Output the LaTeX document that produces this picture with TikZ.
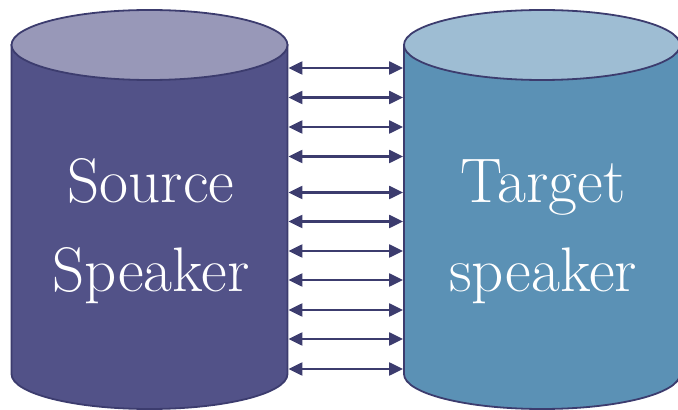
\documentclass[tikz,border=0pt]{standalone}
\usepackage{fontspec}
\usetikzlibrary{arrows.meta}
\definecolor{srcbody}{HTML}{525288}
\definecolor{srctop}{HTML}{9898B8}
\definecolor{tgtbody}{HTML}{5B91B5}
\definecolor{tgttop}{HTML}{9EBDD3}
\definecolor{rim}{HTML}{3C3C6E}
\begin{document}
\begin{tikzpicture}[x=1pt,y=1pt,
  pics/drum/.style 2 args={code={
    \filldraw[draw=rim,line width=1.8pt,fill=#1] (-138,365) -- (-138,36)
      arc[start angle=180,end angle=360,x radius=138,y radius=35] -- (138,365) -- cycle;
    \filldraw[draw=rim,line width=1.8pt,fill=#2] (0,365) ellipse[x radius=138,y radius=35];
    \coordinate (-west) at (-138.9,200);
    \coordinate (-east) at (138.9,200);
  }},
  word/.style={text=white,align=center,font=\fontsize{63}{89}\selectfont},
  link/.style={draw=rim,line width=2.2pt,{Triangle[length=14pt,width=13pt]}-{Triangle[length=14pt,width=13pt]}}]
  \useasboundingbox (0,0) rectangle (678,410);
  \pic (src) at (149.5,0) {drum={srcbody}{srctop}};
  \pic (tgt) at (542,0) {drum={tgtbody}{tgttop}};
  \node (srctext) [word] at (151,179) {Source\\Speaker};
  \node (tgttext) [word] at (543,178.5) {Target\\speaker};
  \foreach \y in {342,312.5,283,253.5,217.5,188.5,159,130,100,71,41}
    \draw[link] (src-east |- 0,\y) -- (tgt-west |- 0,\y);
\end{tikzpicture}
\end{document}
